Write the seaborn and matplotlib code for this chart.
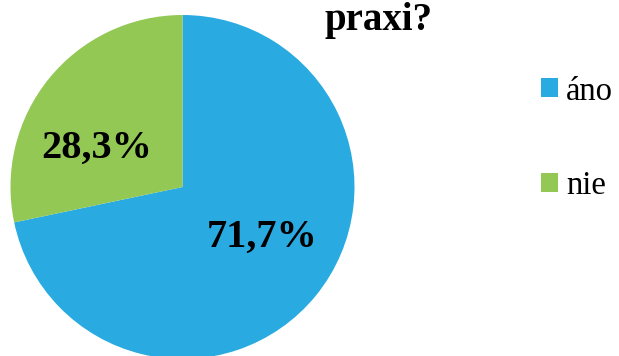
import matplotlib
matplotlib.use("Agg")
import matplotlib.pyplot as plt
from matplotlib.patches import Patch
import seaborn as sns

# Data
categories = ["áno", "nie"]
shares = [71.7, 28.3]
colors = ["#29ABE2", "#92C853"]
title_text = "praxi?"

sns.set_theme(style="white")
plt.rcParams["font.family"] = ["Liberation Serif", "DejaVu Serif"]
plt.rcParams["text.color"] = "black"

W, H = 619, 356
fig = plt.figure(figsize=(W / 100, H / 100), dpi=100)

cx, cy, r = 182.5, 187, 172
ax = fig.add_axes([(cx - r) / W, (H - cy - r) / H, 2 * r / W, 2 * r / H])

wedges, texts, autotexts = ax.pie(
    shares,
    colors=colors,
    startangle=90,
    counterclock=False,
    autopct=lambda p: f"{p:.1f}%".replace(".", ","),
    wedgeprops={"linewidth": 0},
    textprops={"fontsize": 29, "fontweight": "bold", "color": "black"},
)
ax.set_xlim(-1, 1)
ax.set_ylim(-1, 1)
ax.set_aspect("equal")

# label placement (Excel-like)
label_pos = [((262 - cx) / r, (cy - 237) / r), ((97 - cx) / r, (cy - 148) / r)]
for t, pos in zip(autotexts, label_pos):
    t.set_position(pos)
    t.set_ha("center")
    t.set_va("center")

fig.text(379 / W, 1 - 30 / H, title_text, ha="center", va="baseline",
         fontsize=28, fontweight="bold", color="black")

handles = [Patch(facecolor=c, edgecolor="none") for c in colors]
fig.legend(
    handles, categories,
    loc="upper left", bbox_to_anchor=(541 / W, 1 - 76 / H),
    frameon=False, fontsize=23.5, labelcolor="black",
    handlelength=0.52, handleheight=0.52, handletextpad=0.25,
    labelspacing=1.95, borderaxespad=0, borderpad=0,
)

fig.savefig("out.png", dpi=100)
